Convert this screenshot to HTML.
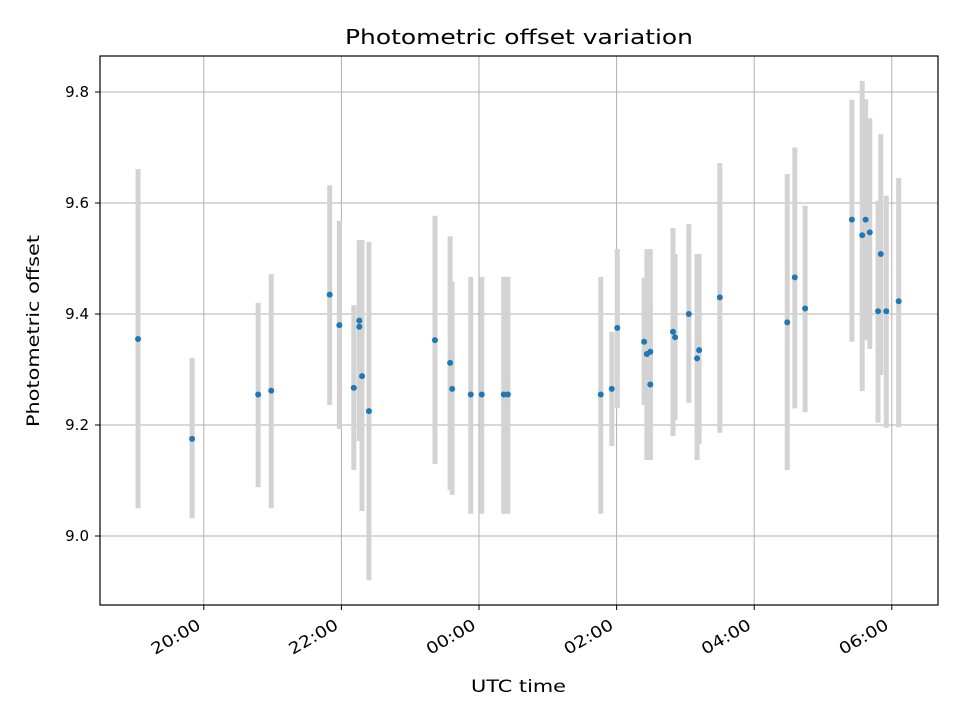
<!DOCTYPE html>
<html><head><meta charset="utf-8"><style>
body{margin:0;background:#fff;font-family:"Liberation Sans","DejaVu Sans",sans-serif}
svg text{font-family:"DejaVu Sans","Liberation Sans",sans-serif}
</style></head><body>
<svg id="chart" width="960" height="720" xmlns="http://www.w3.org/2000/svg">
<rect width="960" height="720" fill="#fff"/>
<g id="grid"></g>
<g id="bars"></g>
<g id="pts"></g>
<rect x="100" y="56" width="838" height="549" fill="none" stroke="#000" stroke-width="1.2"/>
<g id="ticks"></g>
<text x="345" y="44" font-size="20" textLength="348" lengthAdjust="spacingAndGlyphs">Photometric offset variation</text>
<text x="471" y="692" font-size="17" textLength="95" lengthAdjust="spacingAndGlyphs">UTC time</text>
<text transform="translate(39,427) rotate(-90)" font-size="17" textLength="192" lengthAdjust="spacingAndGlyphs">Photometric offset</text>
</svg>
<script>
const hours=[-4.956,-4.17,-3.21,-3.02,-2.17,-2.03,-1.82,-1.74,-1.74,-1.70,-1.60,-0.64,-0.42,-0.39,-0.12,0.04,0.36,0.42,1.77,1.93,2.01,2.40,2.44,2.49,2.49,2.82,2.85,3.05,3.17,3.20,3.50,4.48,4.59,4.74,5.42,5.57,5.62,5.68,5.84,5.80,5.92,6.10];
const values=[9.355,9.175,9.255,9.262,9.435,9.38,9.267,9.388,9.377,9.288,9.225,9.353,9.312,9.265,9.255,9.255,9.255,9.255,9.255,9.265,9.375,9.35,9.328,9.332,9.273,9.368,9.358,9.40,9.32,9.335,9.43,9.385,9.466,9.41,9.57,9.542,9.57,9.547,9.508,9.405,9.405,9.423];
const upper=[9.661,9.321,9.42,9.472,9.632,9.568,9.416,9.53,9.533,9.533,9.53,9.577,9.54,9.458,9.467,9.467,9.467,9.467,9.467,9.368,9.517,9.465,9.517,9.413,9.517,9.555,9.508,9.562,9.508,9.508,9.672,9.652,9.70,9.595,9.786,9.82,9.787,9.753,9.724,9.604,9.613,9.645];
const lower=[9.05,9.032,9.088,9.05,9.236,9.193,9.119,9.245,9.171,9.045,8.92,9.13,9.083,9.074,9.04,9.04,9.04,9.04,9.04,9.162,9.23,9.236,9.137,9.137,9.137,9.18,9.209,9.24,9.137,9.166,9.186,9.119,9.23,9.223,9.35,9.261,9.353,9.337,9.29,9.204,9.195,9.196];
const xTickHours=[-4,-2,0,2,4,6];
const xTickLabels=["20:00","22:00","00:00","02:00","04:00","06:00"];
const yTicks=[9.0,9.2,9.4,9.6,9.8];
const yTickLabels=["9.0","9.2","9.4","9.6","9.8"];
const NS="http://www.w3.org/2000/svg";
const X=h=>479+h*68.8, Y=v=>536-(v-9)*555;
function mk(t,a,p){const e=document.createElementNS(NS,t);for(const k in a)e.setAttribute(k,a[k]);p.appendChild(e);return e;}
const g=document.getElementById('grid'),tk=document.getElementById('ticks');
xTickHours.forEach((h,i)=>{const x=X(h);
 const l=mk('line',{x1:x,x2:x,y1:56,y2:605,stroke:'#b0b0b0','stroke-width':1},g);
 
 
 const t=mk('line',{x1:x,x2:x,y1:605,y2:610,stroke:'#000'},tk);
 
 
 const ax=x-2, ay=628;
 const tx=mk('text',{x:ax-54,y:ay,'font-size':16,textLength:54,lengthAdjust:'spacingAndGlyphs',transform:`rotate(-30 ${ax} ${ay})`},tk);
 
 
 tx.textContent=xTickLabels[i];});
yTicks.forEach((v,i)=>{const y=Y(v);
 const l=mk('line',{x1:100,x2:938,y1:y,y2:y,stroke:'#b0b0b0','stroke-width':1},g);
 
 
 const t=mk('line',{x1:95,x2:100,y1:y,y2:y,stroke:'#000'},tk);
 
 
 const tx=mk('text',{x:89,y:y+5,'text-anchor':'end','font-size':15},tk);
 
 
 tx.textContent=yTickLabels[i];});
const b=document.getElementById('bars'),p=document.getElementById('pts');
hours.forEach((h,i)=>{
 const r=mk('line',{x1:X(h),x2:X(h),y1:Y(upper[i]),y2:Y(lower[i]),stroke:'#d3d3d3','stroke-width':5},b);
 
 });
hours.forEach((h,i)=>{
 const c=mk('circle',{cx:X(h),cy:Y(values[i]),r:3,fill:'#1f77b4'},p);
 
 });
</script>
</body></html>
